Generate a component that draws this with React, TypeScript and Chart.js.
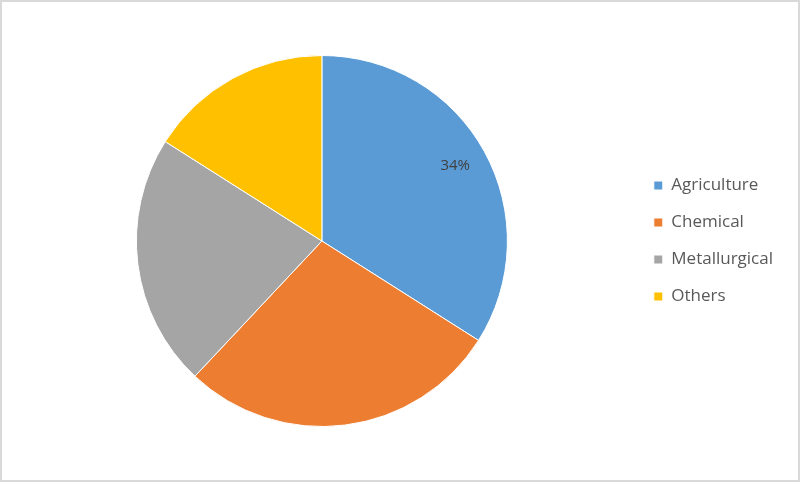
import React, { useRef, useEffect } from 'react';
import { Chart, registerables, Plugin, ArcElement } from 'chart.js';

Chart.register(...registerables);

const categories = ['Agriculture', 'Chemical', 'Metallurgical', 'Others'];
const shares = [34, 28, 22, 16];
const colors = ['#5B9BD5', '#ED7D31', '#A5A5A5', '#FFC000'];
// only the first slice carries a visible data label in the original
const shownLabels = [true, false, false, false];

const sliceLabels: Plugin<'pie'> = {
    id: 'sliceLabels',
    afterDatasetsDraw(chart) {
        const ctx = chart.ctx;
        const meta = chart.getDatasetMeta(0);
        meta.data.forEach((el, i) => {
            if (!shownLabels[i]) return;
            const arc = el as ArcElement;
            const { x, y, startAngle, endAngle, outerRadius } = arc.getProps(
                ['x', 'y', 'startAngle', 'endAngle', 'outerRadius'], true
            );
            const mid = (startAngle + endAngle) / 2;
            const r = outerRadius * 0.82;
            ctx.save();
            ctx.font = '15px "Open Sans", sans-serif';
            ctx.fillStyle = '#404040';
            ctx.textAlign = 'center';
            ctx.textBaseline = 'middle';
            ctx.fillText(`${shares[i]}%`, x + Math.cos(mid) * r, y + Math.sin(mid) * r - 2);
            ctx.restore();
        });
    },
};

const SharePie: React.FC = () => {
    const chartRef = useRef<HTMLCanvasElement | null>(null);
    const chartInstance = useRef<Chart | null>(null);

    useEffect(() => {
        if (!chartRef.current) return;
        const ctx = chartRef.current.getContext('2d');
        if (!ctx) return;

        if (chartInstance.current) {
            chartInstance.current.destroy();
        }

        chartInstance.current = new Chart(ctx, {
            type: 'pie',
            data: {
                labels: categories,
                datasets: [
                    {
                        data: shares,
                        backgroundColor: colors,
                        borderColor: '#ffffff',
                        borderWidth: 1,
                    },
                ],
            },
            options: {
                responsive: false,
                maintainAspectRatio: false,
                animation: false,
                layout: {
                    padding: { top: 53, bottom: 53, left: 8, right: 15 },
                },
                plugins: {
                    legend: {
                        position: 'right',
                        labels: {
                            boxWidth: 9,
                            boxHeight: 9,
                            padding: 20,
                            color: '#595959',
                            font: { family: '"Open Sans", sans-serif', size: 17 },
                        },
                    },
                    tooltip: { enabled: false },
                },
            },
            plugins: [sliceLabels],
        });

        return () => {
            if (chartInstance.current) {
                chartInstance.current.destroy();
                chartInstance.current = null;
            }
        };
    }, []);

    return <canvas ref={chartRef} width={796} height={478} style={{ display: 'block' }}></canvas>;
};

const App: React.FC = () => {
    return (
        <div
            style={{
                position: 'fixed',
                left: 0,
                top: 0,
                width: 800,
                height: 482,
                boxSizing: 'border-box',
                border: '2px solid #d9d9d9',
                background: '#ffffff',
            }}
        >
            <SharePie />
        </div>
    );
};

export default App;
